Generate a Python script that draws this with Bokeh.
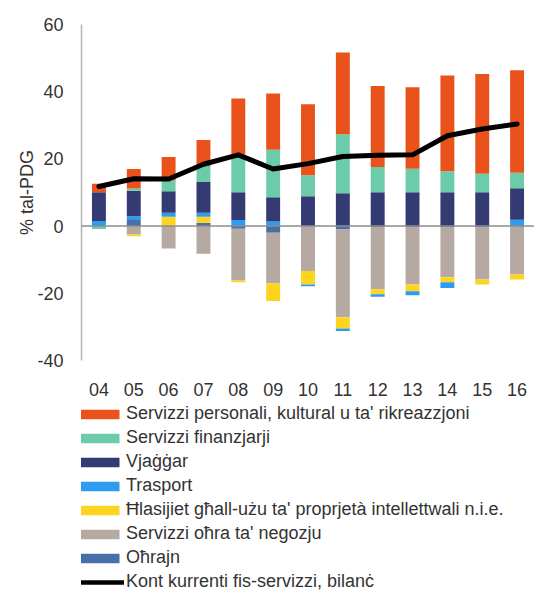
from bokeh.plotting import figure
from bokeh.layouts import column
from bokeh.models import ColumnDataSource, Span, Legend, LegendItem, Range1d, FixedTicker, FactorRange
from bokeh.embed import file_html
from bokeh.resources import INLINE

years = ["04", "05", "06", "07", "08", "09", "10", "11", "12", "13", "14", "15", "16"]

personali = [2.5, 5.8, 7.0, 7.7, 16.6, 16.8, 21.2, 24.4, 24.1, 24.2, 28.5, 29.7, 30.5]
finanzjarji = [-0.9, 0.7, 3.2, 4.8, 11.3, 14.1, 6.2, 17.5, 7.5, 7.0, 6.2, 5.5, 4.6]
vjaggar = [8.6, 7.6, 6.4, 9.1, 8.3, 7.2, 8.9, 9.8, 10.1, 10.1, 10.1, 10.1, 9.4]
trasport = [1.5, 1.1, 1.2, 1.2, 1.8, 1.4, -0.5, -0.7, -0.7, -1.2, -1.7, 0.0, 1.9]
hlasijiet = [0.0, -0.5, 2.8, 1.8, -0.5, -5.2, -4.0, -3.4, -1.5, -2.0, -1.5, -1.5, -1.5]
ohra_negozju = [0.0, -2.5, -6.7, -8.2, -15.4, -15.1, -13.4, -26.1, -18.5, -17.1, -14.9, -15.6, -14.4]
ohrajn = [0.0, 1.8, 0.0, 1.0, -0.8, -2.0, 0.0, -1.0, -0.3, -0.3, -0.3, -0.3, 0.0]
bilanc = [11.8, 14.1, 14.0, 18.4, 21.2, 17.0, 18.6, 20.7, 21.1, 21.2, 26.9, 28.9, 30.4]

y_ticks = [-40, -20, 0, 20, 40, 60]
y_tick_labels = {-40: "-40", -20: "-20", 0: "0", 20: "20", 40: "40", 60: "60"}

labels = {
    "personali": "Servizzi personali, kultural u ta' rikreazzjoni",
    "finanzjarji": "Servizzi finanzjarji",
    "vjaggar": "Vjaġġar",
    "trasport": "Trasport",
    "hlasijiet": "Ħlasijiet għall-użu ta' proprjetà intellettwali n.i.e.",
    "ohra_negozju": "Servizzi oħra ta' negozju",
    "ohrajn": "Oħrajn",
}
line_label = "Kont kurrenti fis-servizzi, bilanċ"

series = {
    "personali": personali,
    "finanzjarji": finanzjarji,
    "vjaggar": vjaggar,
    "trasport": trasport,
    "hlasijiet": hlasijiet,
    "ohra_negozju": ohra_negozju,
    "ohrajn": ohrajn,
}
colors = {
    "personali": "#E9531B",
    "finanzjarji": "#6CCBA8",
    "vjaggar": "#343B73",
    "trasport": "#2D9CF0",
    "hlasijiet": "#FED51E",
    "ohra_negozju": "#B6A9A2",
    "ohrajn": "#4A6FA8",
}
legend_order = ["personali", "finanzjarji", "vjaggar", "trasport", "hlasijiet", "ohra_negozju", "ohrajn"]
stack_order = list(reversed(legend_order))

data = {"year": years, "bilanc": bilanc}
for k, vals in series.items():
    data[k + "_pos"] = [max(v, 0.0) for v in vals]
    data[k + "_neg"] = [min(v, 0.0) for v in vals]
src = ColumnDataSource(data)

FONT = "Liberation Sans"
TXT = "#333333"

p = figure(x_range=years, y_range=Range1d(-40, 60), width=534, height=403,
           output_backend="svg", toolbar_location=None,
           min_border_left=81, min_border_right=0, min_border_top=24, min_border_bottom=43)

p.vbar_stack([k + "_pos" for k in stack_order], x="year", width=0.4,
             fill_color=[colors[k] for k in stack_order], line_color=None, source=src)
p.vbar_stack([k + "_neg" for k in stack_order], x="year", width=0.4,
             fill_color=[colors[k] for k in stack_order], line_color=None, source=src)

p.add_layout(Span(location=0, dimension="width", line_color="#8C8C8C", line_width=1.5))

p.line(x="year", y="bilanc", source=src, line_color="black", line_width=5,
       line_join="round", line_cap="round")

p.xgrid.visible = False
p.ygrid.visible = False
p.outline_line_color = None

p.xaxis.axis_line_color = None
p.xaxis.major_tick_line_color = None
p.xaxis.minor_tick_line_color = None
p.xaxis.major_label_standoff = 16
p.xaxis.major_label_text_font = FONT
p.xaxis.major_label_text_font_size = "18px"
p.xaxis.major_label_text_color = TXT

p.yaxis.ticker = FixedTicker(ticks=y_ticks)
p.yaxis.major_label_overrides = y_tick_labels
p.yaxis.axis_line_color = "#B3B3B3"
p.yaxis.axis_line_width = 1.5
p.yaxis.major_tick_line_color = None
p.yaxis.minor_tick_line_color = None
p.yaxis.major_label_standoff = 12
p.yaxis.major_label_text_font = FONT
p.yaxis.major_label_text_font_size = "18px"
p.yaxis.major_label_text_color = TXT
p.yaxis.axis_label = "% tal-PDG"
p.yaxis.axis_label_text_font = FONT
p.yaxis.axis_label_text_font_size = "18px"
p.yaxis.axis_label_text_font_style = "normal"
p.yaxis.axis_label_text_color = TXT
p.yaxis.axis_label_standoff = -3

# legend panel below the chart (its renderers sit outside the visible y range)
lg = figure(width=534, height=189, output_backend="svg", toolbar_location=None,
            x_axis_type=None, y_axis_type=None, min_border=0,
            x_range=FactorRange(*years), y_range=Range1d(1000, 1001))
lg.outline_line_color = None
lg.xgrid.visible = False
lg.ygrid.visible = False

items = []
for k in legend_order:
    r = lg.vbar(x="year", top=k + "_pos", width=0.4, source=src,
                fill_color=colors[k], line_color=None)
    items.append(LegendItem(label=labels[k], renderers=[r]))
lr = lg.line(x="year", y="bilanc", source=src, line_color="black", line_width=4.5)
items.append(LegendItem(label=line_label, renderers=[lr]))

legend = Legend(items=items, location=(-7, 0), orientation="vertical",
                padding=0, margin=0, spacing=3, glyph_width=50, glyph_height=12,
                label_height=21, label_standoff=2,
                label_text_font=FONT, label_text_font_size="18px", label_text_color=TXT,
                border_line_color=None, background_fill_alpha=0)
lg.add_layout(legend)

layout = column(p, lg, spacing=0)
open("out.html", "w").write(file_html(layout, INLINE))
